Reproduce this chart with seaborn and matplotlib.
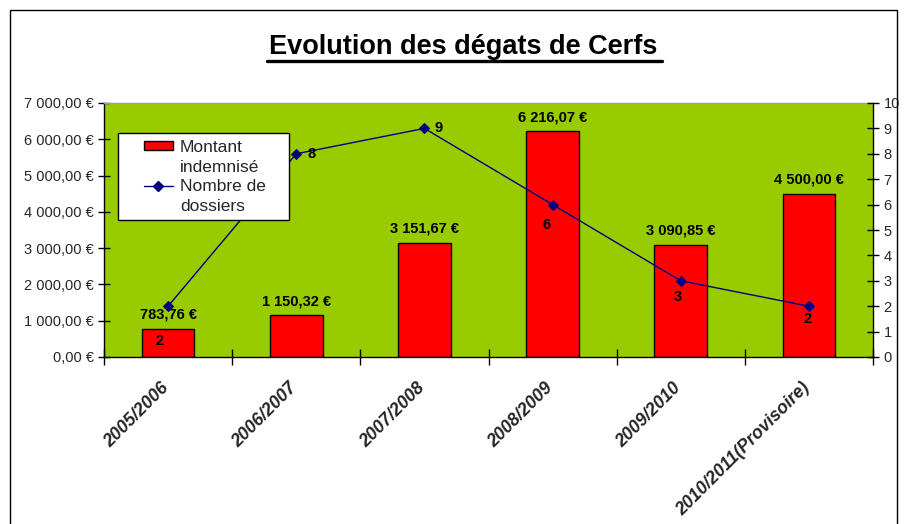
import numpy as np
import matplotlib
matplotlib.use("Agg")
import matplotlib.pyplot as plt
import seaborn as sns
from matplotlib.patches import Rectangle, Patch
from matplotlib.lines import Line2D
from matplotlib.ticker import FuncFormatter, FixedLocator
from matplotlib.transforms import ScaledTranslation

# ---- data ----
categories = ["2005/2006", "2006/2007", "2007/2008", "2008/2009", "2009/2010",
              "2010/2011(Provisoire)"]
montant = [783.76, 1150.32, 3151.67, 6216.07, 3090.85, 4500.00]
dossiers = [2, 8, 9, 6, 3, 2]
montant_labels = ["783,76 €", "1 150,32 €", "3 151,67 €", "6 216,07 €", "3 090,85 €", "4 500,00 €"]
title = "Evolution des dégats de Cerfs"
legend_labels = ["Montant", "indemnisé", "Nombre de", "dossiers"]

# label offsets (points) for the line data labels, as placed in the original
dossier_label_offsets = [(-6, -25), (11, 0), (10, 0), (-4, -15), (-2, -12), (-1, -9)]

sns.set_style("white")
plt.rcParams["font.family"] = ["Liberation Sans", "DejaVu Sans"]

W, H = 905, 524
fig = plt.figure(figsize=(W / 100, H / 100), dpi=100)
fig.patch.set_facecolor("white")

L, R, T, B = 104, 873, 103, 357
ax = fig.add_axes([L / W, 1 - B / H, (R - L) / W, (B - T) / H])
ax.set_facecolor("#99CC00")

x = np.arange(len(categories))
sns.barplot(x=x, y=montant, color="#FF0000", edgecolor="black", linewidth=1,
            width=0.41, saturation=1, ax=ax, zorder=2)
ax.set_xlim(-0.5, len(categories) - 0.5)
ax.set_ylim(0, 7000)
ax.set_yticks(np.arange(0, 7001, 1000))


def euro(v, pos=None):
    s = f"{v:,.2f}".replace(",", " ").replace(".", ",")
    return s + " €"


ax.yaxis.set_major_formatter(FuncFormatter(euro))
ax.tick_params(axis="y", direction="inout", length=9, width=1, color="black",
               labelsize=10.5, pad=3, left=True)
ax.set_xticks(x)
ax.set_xticklabels(categories, rotation=45, ha="right", va="top",
                   rotation_mode="anchor", fontsize=12.8,
                   fontweight="bold", fontstyle="italic")
ax.tick_params(axis="x", which="major", length=0, pad=16)
shift = ScaledTranslation(-8 / 100, 0, fig.dpi_scale_trans)
for lab in ax.get_xticklabels():
    lab.set_transform(lab.get_transform() + shift)
ax.xaxis.set_minor_locator(FixedLocator(np.arange(-0.5, len(categories), 1.0)))
ax.tick_params(axis="x", which="minor", direction="inout", length=11, width=1,
               color="black", bottom=True)
ax.set_xlabel("")
ax.set_ylabel("")

for sp in ["left", "bottom", "right"]:
    ax.spines[sp].set_color("black")
    ax.spines[sp].set_linewidth(1)
ax.spines["top"].set_color("#9a9a9a")
ax.spines["top"].set_linewidth(1)

for xi, v, lab in zip(x, montant, montant_labels):
    ax.annotate(lab, (xi, v), xytext=(0, 5), textcoords="offset points",
                ha="center", va="bottom", fontsize=10.5, fontweight="bold",
                color="black", zorder=3)

ax2 = ax.twinx()
sns.lineplot(x=x, y=dossiers, color="#000080", linewidth=1, marker="D",
             markersize=5, markeredgecolor="#000080", ax=ax2, zorder=4)
ax2.set_ylim(0, 10)
ax2.set_yticks(range(0, 11))
ax2.tick_params(axis="y", direction="inout", length=9, width=1, color="black",
                labelsize=10.5, pad=3, right=True)
ax2.set_ylabel("")
for sp in ax2.spines.values():
    sp.set_visible(False)

for xi, v, (dx, dy) in zip(x, dossiers, dossier_label_offsets):
    ax2.annotate(str(v), (xi, v), xytext=(dx, dy), textcoords="offset points",
                 ha="center", va="center", fontsize=10.5, fontweight="bold",
                 color="black", zorder=5)

# legend box
box = Rectangle(((118 - L) / (R - L), (B - 220) / (B - T)), 171 / (R - L), 87 / (B - T),
                transform=ax2.transAxes, facecolor="white", edgecolor="black",
                linewidth=1, zorder=6)
ax2.add_patch(box)
handles = [Patch(facecolor="#FF0000", edgecolor="black", linewidth=1),
           Patch(facecolor="none", edgecolor="none"),
           Line2D([], [], color="#000080", linewidth=1, marker="D", markersize=5),
           Patch(facecolor="none", edgecolor="none")]
leg = ax2.legend(handles, legend_labels, loc="upper left", frameon=False,
                 bbox_to_anchor=((144 - L) / (R - L), (B - 140) / (B - T)),
                 borderaxespad=0, borderpad=0, fontsize=12.5, handlelength=1.67,
                 handleheight=0.4, handletextpad=0.4, labelspacing=0.26)
leg.set_zorder(7)

# title with underline
t = fig.text(463.5 / W, 1 - 54 / H, title, ha="center", va="baseline",
             fontsize=19.5, fontweight="bold", color="black")
fig.canvas.draw()
bb = t.get_window_extent(fig.canvas.get_renderer())
uy = 1 - 60.5 / H
fig.add_artist(Line2D([(bb.x0 - 2) / W, (bb.x1 + 4) / W], [uy, uy], color="black",
                      linewidth=2.4, transform=fig.transFigure))

# outer frame
fig.add_artist(Rectangle((10 / W, -0.02), (897 - 10) / W, 1 - 10 / H + 0.02,
                         transform=fig.transFigure, fill=False, edgecolor="black",
                         linewidth=1))

fig.savefig("out.png", dpi=100)
